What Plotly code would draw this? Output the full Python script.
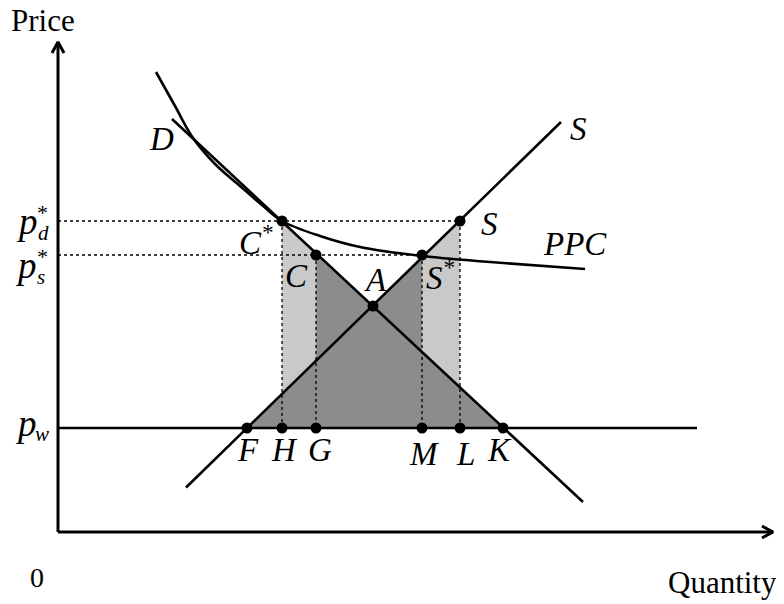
import numpy as np
import plotly.graph_objects as go

# ---------------- data (quantity / price units, origin at the axes corner) -------------
supply_q = [128, 503]
supply_p = [44.5, 410]
demand_q = [114, 525]
demand_p = [413, 30]
ppc_q = [98, 117, 135, 157, 182, 204, 224, 262, 302, 364, 432, 527]
ppc_p = [460, 426, 394, 368, 346, 327, 311, 296, 285, 276, 270, 263]

p_w = 104
p_d = 311
p_s = 277
pw_line_end = 639

base_names = ["F", "H", "G", "M", "L", "K"]
base_q = [189, 224, 258, 364, 402, 445]

upper_names = ["C*", "C", "A", "S*", "S"]
upper_q = [224, 258, 315, 364, 402]
upper_p = [p_d, p_s, 226, p_s, p_d]

x_axis_end = 715
y_axis_end = 490

FONT = "Liberation Serif"
DARK = "#8c8c8c"
LIGHT = "#c9c9c9"


def S(q):
    return float(np.interp(q, supply_q, supply_p))


def D(q):
    return float(np.interp(q, demand_q, demand_p))


F, H, G, M, L, K = base_q
A = (upper_q[2], upper_p[2])

fig = go.Figure()

# dark region
dark_x = [F, G, G, A[0], M, M, K, F]
dark_y = [p_w, S(G), D(G), A[1], S(M), D(M), p_w, p_w]
fig.add_trace(go.Scatter(x=dark_x, y=dark_y, fill="toself", fillcolor=DARK,
                         mode="lines", line=dict(width=0), hoverinfo="skip"))
# light columns
fig.add_trace(go.Scatter(x=[H, G, G, H, H], y=[D(H), D(G), S(G), S(H), D(H)],
                         fill="toself", fillcolor=LIGHT, mode="lines",
                         line=dict(width=0), hoverinfo="skip"))
fig.add_trace(go.Scatter(x=[M, L, L, M, M], y=[S(M), S(L), D(L), D(M), S(M)],
                         fill="toself", fillcolor=LIGHT, mode="lines",
                         line=dict(width=0), hoverinfo="skip"))

# dotted guides
dot = dict(color="black", width=1.3, dash="dot")
fig.add_trace(go.Scatter(x=[0, L], y=[p_d, p_d], mode="lines", line=dot, hoverinfo="skip"))
fig.add_trace(go.Scatter(x=[0, M], y=[p_s, p_s], mode="lines", line=dot, hoverinfo="skip"))
for q, top in [(H, p_d), (G, p_s), (M, p_s), (L, p_d)]:
    fig.add_trace(go.Scatter(x=[q, q], y=[top, p_w], mode="lines", line=dot, hoverinfo="skip"))

solid = dict(color="black", width=2.6)
# world price line
fig.add_trace(go.Scatter(x=[0, pw_line_end], y=[p_w, p_w], mode="lines", line=solid, hoverinfo="skip"))
# supply, demand, PPC
fig.add_trace(go.Scatter(x=supply_q, y=supply_p, mode="lines", line=solid, hoverinfo="skip"))
fig.add_trace(go.Scatter(x=demand_q, y=demand_p, mode="lines", line=solid, hoverinfo="skip"))
fig.add_trace(go.Scatter(x=ppc_q, y=ppc_p, mode="lines",
                         line=dict(color="black", width=2.6, shape="spline", smoothing=1.0),
                         hoverinfo="skip"))

# axes with chevron arrow heads
fig.add_trace(go.Scatter(x=[0, 0], y=[0, y_axis_end], mode="lines",
                         line=dict(color="black", width=3), hoverinfo="skip"))
fig.add_trace(go.Scatter(x=[0, x_axis_end], y=[0, 0], mode="lines",
                         line=dict(color="black", width=3), hoverinfo="skip"))
fig.add_trace(go.Scatter(x=[-6, 0, 6], y=[y_axis_end - 11, y_axis_end, y_axis_end - 11],
                         mode="lines", line=dict(color="black", width=3), hoverinfo="skip"))
fig.add_trace(go.Scatter(x=[x_axis_end - 11, x_axis_end, x_axis_end - 11], y=[6, 0, -6],
                         mode="lines", line=dict(color="black", width=3), hoverinfo="skip"))

# points
fig.add_trace(go.Scatter(x=base_q + upper_q, y=[p_w] * len(base_q) + upper_p,
                         mode="markers", marker=dict(color="black", size=11),
                         hoverinfo="skip"))

# ---------------- text (positions given in page pixels) ----------------
def px(x, y):
    return x - 58, 532 - y


def label(text, x, y, size=33, italic=True):
    qx, qy = px(x, y)
    fig.add_annotation(x=qx, y=qy, text=(f"<i>{text}</i>" if italic else text),
                       showarrow=False, xref="x", yref="y",
                       font=dict(family=FONT, size=size, color="black"))


label("Price", 43, 20, 31, italic=False)
label("0", 37, 577, 28, italic=False)
label("Quantity", 722, 582, 31, italic=False)

label("D", 161, 139)
label("S", 578, 129)
label("S", 489, 224)
label("PPC", 575, 244)
label("C<sup>*</sup>", 256, 240)
label("C", 296, 276)
label("A", 375, 280)
label("S<sup>*</sup>", 440, 275)

for name, x in zip(base_names, [248, 284, 320, 424, 465, 499]):
    label(name, x, 450 if name not in ("M", "L") else 454)

# left price labels
label("p", 27, 221, 37)
label("d", 43, 233, 21)
label("*", 42, 212, 22, italic=False)
label("p", 26, 265, 37)
label("s", 41, 277, 21)
label("*", 42, 256, 22, italic=False)
label("p", 26, 423, 37)
label("w", 42, 434, 21)

fig.update_layout(
    width=776, height=596, autosize=False,
    margin=dict(l=0, r=0, t=0, b=0),
    paper_bgcolor="white", plot_bgcolor="white",
    showlegend=False,
    xaxis=dict(range=[-50, 726], visible=False, fixedrange=True),
    yaxis=dict(range=[-72, 524], visible=False, fixedrange=True),
)

fig.write_html("out.html")
